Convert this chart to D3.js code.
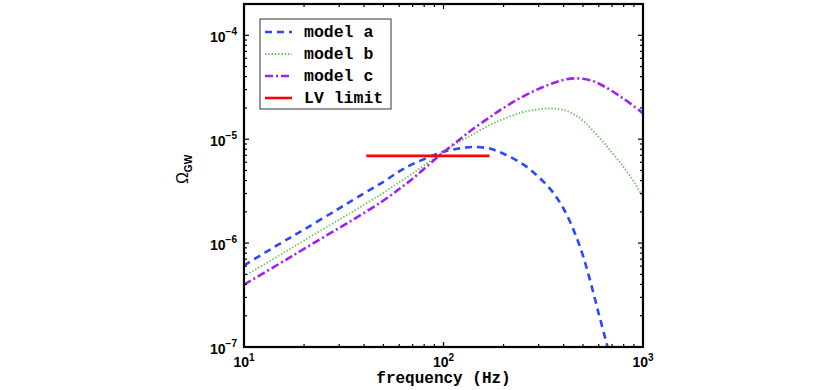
<!DOCTYPE html>
<meta charset="utf-8">
<style>
  body { margin: 0; background: #fff; }
  .tick-label { font-family: "Liberation Sans", Arial, sans-serif; font-weight: bold; font-size: 14px; }
  .mono { font-family: "Liberation Mono", "Courier New", monospace; font-weight: bold; font-size: 16.5px; }
</style>
<body>
<svg width="830" height="390"></svg>
<script src="https://d3js.org/d3.v7.min.js"></script>
<script>
  // values (frequency in Hz, Omega_GW)
  var freqA = [10, 15, 20, 30, 40, 50, 60, 70, 85, 100, 120, 140, 170, 200, 250, 300, 350, 400, 450, 500, 550, 600, 650, 680];
  var omegaA = [6.10e-7, 9.77e-7, 1.35e-6, 2.16e-6, 3.02e-6, 3.89e-6, 4.90e-6, 5.75e-6, 6.76e-6, 7.59e-6, 8.13e-6, 8.41e-6,
    8.13e-6, 7.24e-6, 5.75e-6, 4.32e-6, 3.16e-6, 2.14e-6, 1.32e-6, 7.59e-7, 3.98e-7, 2.09e-7, 1.17e-7, 8.5e-8];

  var freqB = [10, 15, 20, 30, 40, 50, 60, 70, 85, 100, 120, 140, 170, 200, 250, 300, 350, 400, 450, 500, 600, 700, 800, 900, 1000];
  var omegaB = [4.79e-7, 7.59e-7, 1.06e-6, 1.68e-6, 2.34e-6, 3.05e-6, 3.85e-6, 4.68e-6, 6.10e-6, 7.59e-6, 9.44e-6, 1.11e-5,
    1.365e-5, 1.567e-5, 1.82e-5, 1.94e-5, 1.98e-5, 1.91e-5, 1.74e-5, 1.51e-5, 1.05e-5, 7.41e-6, 5.37e-6, 3.89e-6, 2.75e-6];

  var freqC = [10, 15, 20, 30, 40, 50, 60, 70, 85, 100, 120, 140, 170, 200, 250, 300, 350, 400, 460, 550, 650, 800, 1000];
  var omegaC = [3.98e-7, 6.31e-7, 8.81e-7, 1.40e-6, 1.95e-6, 2.57e-6, 3.31e-6, 4.17e-6, 5.75e-6, 7.50e-6, 9.89e-6, 1.245e-5,
    1.62e-5, 2.0e-5, 2.57e-5, 3.05e-5, 3.43e-5, 3.72e-5, 3.85e-5, 3.67e-5, 3.16e-5, 2.45e-5, 1.78e-5];

  var lvFreq = [41, 170];
  var lvOmega = 6.9e-6;

  var legendNames = ["model a", "model b", "model c", "LV limit"];
  var xTickVals = [10, 100, 1000], xTickExp = ["1", "2", "3"];
  var yTickVals = [1e-7, 1e-6, 1e-5, 1e-4], yTickExp = ["\u22127", "\u22126", "\u22125", "\u22124"];

  var svg = d3.select("svg"),
    margin = { top: 4, right: 187, bottom: 43, left: 244 },
    width = +svg.attr("width") - margin.left - margin.right,
    height = +svg.attr("height") - margin.top - margin.bottom;

  var x = d3.scaleLog().domain([10, 1000]).range([0, width]),
    y = d3.scaleLog().domain([1e-7, 2e-4]).range([height, 0]);

  var g = svg.append("g")
    .attr("transform", "translate(" + margin.left + "," + margin.top + ")");

  g.append("clipPath").attr("id", "clip")
    .append("rect").attr("width", width).attr("height", height);

  var styles = [
    { color: "#2a47ff", width: 2.6, dash: "7,5" },
    { color: "#5cc04a", width: 1.8, dash: "1.3,2" },
    { color: "#a020f0", width: 2.6, dash: "8,3,2,3" },
    { color: "#ff0000", width: 2.6, dash: null }
  ];

  function series(fs, os) {
    return fs.map(function (f, i) { return [f, os[i]]; });
  }

  var line = d3.line()
    .x(function (d) { return x(d[0]); })
    .y(function (d) { return y(d[1]); })
    .curve(d3.curveCatmullRom.alpha(0.5));

  var plot = g.append("g").attr("clip-path", "url(#clip)");
  [series(freqA, omegaA), series(freqB, omegaB), series(freqC, omegaC)].forEach(function (s, i) {
    plot.append("path")
      .datum(s)
      .attr("fill", "none")
      .attr("stroke", styles[i].color)
      .attr("stroke-width", styles[i].width)
      .attr("stroke-dasharray", styles[i].dash)
      .attr("d", line);
  });
  plot.append("path")
    .datum(lvFreq.map(function (f) { return [f, lvOmega]; }))
    .attr("fill", "none")
    .attr("stroke", styles[3].color)
    .attr("stroke-width", 2.8)
    .attr("d", d3.line().x(function (d) { return x(d[0]); }).y(function (d) { return y(d[1]); }));

  // ticks, inward on all four sides
  var ticks = g.append("g").attr("stroke", "#000").attr("stroke-width", 1.2);
  function minorList(lo, hi) {
    var out = [];
    for (var e = lo; e < hi; e++) {
      for (var k = 1; k < 10; k++) out.push({ v: k * Math.pow(10, e), major: k == 1 });
    }
    out.push({ v: Math.pow(10, hi), major: true });
    return out;
  }
  minorList(1, 3).forEach(function (t) {
    var px = x(t.v), len = t.major ? 5 : 3;
    ticks.append("line").attr("x1", px).attr("x2", px).attr("y1", height).attr("y2", height - len);
    ticks.append("line").attr("x1", px).attr("x2", px).attr("y1", 0).attr("y2", len);
  });
  minorList(-7, -4).concat([{ v: 2e-4, major: false }]).forEach(function (t) {
    var py = y(t.v), len = t.major ? 5 : 3;
    ticks.append("line").attr("y1", py).attr("y2", py).attr("x1", 0).attr("x2", len);
    ticks.append("line").attr("y1", py).attr("y2", py).attr("x1", width).attr("x2", width - len);
  });

  // frame
  g.append("rect")
    .attr("width", width).attr("height", height)
    .attr("fill", "none").attr("stroke", "#000").attr("stroke-width", 2.2);

  // tick labels
  xTickVals.forEach(function (v, i) {
    var t = g.append("text").attr("class", "tick-label")
      .attr("x", x(v)).attr("y", height + 20).attr("text-anchor", "middle");
    t.append("tspan").text("10");
    t.append("tspan").attr("dy", -6).attr("font-size", "10px").text(xTickExp[i]);
  });
  yTickVals.forEach(function (v, i) {
    var t = g.append("text").attr("class", "tick-label")
      .attr("x", -7).attr("y", y(v) + 7).attr("text-anchor", "end");
    t.append("tspan").text("10");
    t.append("tspan").attr("dy", -7).attr("font-size", "10px").text(yTickExp[i]);
  });

  // axis titles
  g.append("text").attr("class", "mono")
    .attr("x", width / 2).attr("y", height + 36).attr("text-anchor", "middle")
    .style("font-size", "16px")
    .text("frequency (Hz)");

  var yl = g.append("text")
    .attr("transform", "translate(-56," + (height / 2 - 6) + ") rotate(-90)")
    .attr("text-anchor", "middle")
    .attr("font-family", "Liberation Sans, Arial, sans-serif");
  yl.append("tspan").attr("font-size", "16px").text("\u03A9");
  yl.append("tspan").attr("font-size", "10px").attr("font-weight", "bold").attr("dy", 4).text("GW");

  // legend
  var lg = g.append("g").attr("transform", "translate(16,15)");
  lg.append("rect").attr("width", 131).attr("height", 90)
    .attr("fill", "#fff").attr("stroke", "#333").attr("stroke-width", 1);
  legendNames.forEach(function (name, i) {
    var ly = 13 + i * 22;
    lg.append("line").attr("x1", 5).attr("x2", 32).attr("y1", ly).attr("y2", ly)
      .attr("stroke", styles[i].color).attr("stroke-width", styles[i].width)
      .attr("stroke-dasharray", styles[i].dash);
    lg.append("text").attr("class", "mono").attr("x", 44).attr("y", ly + 5).text(name);
  });
</script>
</body>
